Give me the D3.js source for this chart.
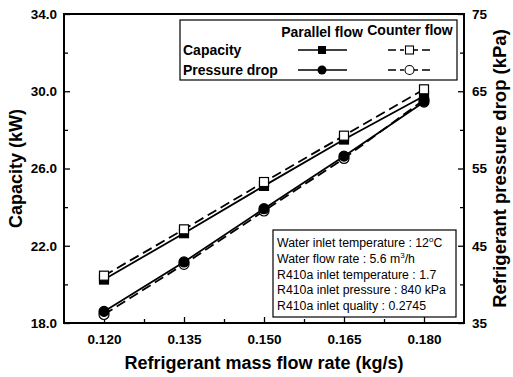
<!DOCTYPE html>
<html><head><meta charset="utf-8">
<script src="https://cdn.jsdelivr.net/npm/d3@7/dist/d3.min.js"></script>
<style>body{margin:0;background:#fff}svg{display:block}text{font-family:"Liberation Sans",Arial,sans-serif}</style>
</head><body>
<svg id="c" width="513" height="377"></svg>
<script>
const massFlow = [0.120, 0.135, 0.150, 0.165, 0.180];
const capParallel = [20.25, 22.65, 25.1, 27.5, 29.75];
const capCounter = [20.45, 22.85, 25.3, 27.7, 30.1];
const pdParallel = [36.5, 42.9, 49.8, 56.6, 63.6];
const pdCounter = [36.1, 42.6, 49.5, 56.3, 63.9];
const xTicks = [0.120, 0.135, 0.150, 0.165, 0.180];
const capTicks = [18, 22, 26, 30, 34];
const pdTicks = [35, 45, 55, 65, 75];
const infoLines = ["Water inlet temperature : 12°C", "Water flow rate : 5.6 m³/h", "R410a inlet temperature : 1.7", "R410a inlet pressure : 840 kPa", "R410a inlet quality : 0.2745"];

const svg = d3.select("#c");
const L = 64, R = 464, T = 14, B = 323;
const x = d3.scaleLinear().domain([0.1125, 0.1875]).range([L, R]);
const yC = d3.scaleLinear().domain([18, 34]).range([B, T]);
const yP = d3.scaleLinear().domain([35, 75]).range([B, T]);

// axes
const gx = svg.append("g").attr("transform", `translate(0,${B})`);
gx.call(d3.axisBottom(x).tickValues(xTicks).tickFormat(d3.format(".3f")).tickSize(-6).tickPadding(11));
gx.append("g").call(d3.axisBottom(x).tickValues(d3.range(0.1275, 0.18, 0.015)).tickSize(-4).tickFormat(""));
const gl = svg.append("g").attr("transform", `translate(${L},0)`);
gl.call(d3.axisLeft(yC).tickValues(capTicks).tickFormat(d3.format(".1f")).tickSize(-6).tickPadding(7));
gl.append("g").call(d3.axisLeft(yC).tickValues([20, 24, 28, 32]).tickSize(-4).tickFormat(""));
const gr = svg.append("g").attr("transform", `translate(${R},0)`);
gr.call(d3.axisRight(yP).tickValues(pdTicks).tickFormat(d3.format("d")).tickSize(-6).tickPadding(8));
gr.append("g").call(d3.axisRight(yP).tickValues([40, 50, 60, 70]).tickSize(-4).tickFormat(""));
svg.selectAll(".domain").remove();
svg.selectAll(".tick line").attr("stroke", "#000").attr("stroke-width", 1.3);
svg.selectAll(".tick text").attr("font-size", 13.5).attr("font-weight", "bold").attr("fill", "#000");
svg.append("rect").attr("x", L).attr("y", T).attr("width", R - L).attr("height", B - T)
  .attr("fill", "none").attr("stroke", "#000").attr("stroke-width", 2);

// axis titles
svg.append("text").attr("x", (L + R) / 2).attr("y", 369).attr("text-anchor", "middle")
  .attr("font-size", 18).attr("font-weight", "bold").text("Refrigerant mass flow rate (kg/s)");
svg.append("text").attr("transform", `translate(22,${(T + B) / 2}) rotate(-90)`).attr("text-anchor", "middle")
  .attr("font-size", 18).attr("font-weight", "bold").text("Capacity (kW)");
svg.append("text").attr("transform", `translate(506,${(T + B) / 2}) rotate(-90)`).attr("text-anchor", "middle")
  .attr("font-size", 18.5).attr("font-weight", "bold").text("Refrigerant pressure drop (kPa)");

// series
const dash = "10,5";
function line(vals, ys, dashed) {
  svg.append("path").datum(vals)
    .attr("d", d3.line().x((d, i) => x(massFlow[i])).y(d => ys(d)))
    .attr("fill", "none").attr("stroke", "#000").attr("stroke-width", 1.8)
    .attr("stroke-dasharray", dashed ? dash : null);
}
line(capCounter, yC, true);
line(capParallel, yC, false);
line(pdCounter, yP, true);
line(pdParallel, yP, false);

function squares(vals, fill) {
  svg.append("g").selectAll("rect").data(vals).join("rect")
    .attr("x", (d, i) => x(massFlow[i]) - 4.5).attr("y", d => yC(d) - 4.5)
    .attr("width", 9).attr("height", 9).attr("fill", fill).attr("stroke", "#000").attr("stroke-width", 1.2);
}
function circles(vals, fill) {
  svg.append("g").selectAll("circle").data(vals).join("circle")
    .attr("cx", (d, i) => x(massFlow[i])).attr("cy", d => yP(d)).attr("r", 5)
    .attr("fill", fill).attr("stroke", "#000").attr("stroke-width", 1.2);
}
circles(pdCounter, "#fff");
circles(pdParallel, "#000");
squares(capParallel, "#000");
squares(capCounter, "#fff");

// legend
const lg = svg.append("g");
lg.append("rect").attr("x", 180).attr("y", 20).attr("width", 277).attr("height", 60)
  .attr("fill", "#fff").attr("stroke", "#000").attr("stroke-width", 1.2);
lg.append("text").attr("x", 322).attr("y", 37).attr("text-anchor", "middle").attr("font-size", 14).attr("font-weight", "bold").text("Parallel flow");
lg.append("text").attr("x", 410).attr("y", 35).attr("text-anchor", "middle").attr("font-size", 14).attr("font-weight", "bold").text("Counter flow");
lg.append("text").attr("x", 183).attr("y", 55).attr("font-size", 14).attr("font-weight", "bold").text("Capacity");
lg.append("text").attr("x", 183).attr("y", 75).attr("font-size", 14).attr("font-weight", "bold").text("Pressure drop");
[[50, "sq"], [70, "ci"]].forEach(([yy, m]) => {
  lg.append("line").attr("x1", 298).attr("x2", 347).attr("y1", yy).attr("y2", yy).attr("stroke", "#000").attr("stroke-width", 1.6);
  lg.append("line").attr("x1", 388).attr("x2", 431).attr("y1", yy).attr("y2", yy).attr("stroke", "#000").attr("stroke-width", 1.6).attr("stroke-dasharray", "8,4,4,10,4,4,8");
  if (m === "sq") {
    lg.append("rect").attr("x", 318).attr("y", yy - 4).attr("width", 8).attr("height", 8).attr("fill", "#000");
    lg.append("rect").attr("x", 405.5).attr("y", yy - 4).attr("width", 8).attr("height", 8).attr("fill", "#fff").attr("stroke", "#000").attr("stroke-width", 1.1);
  } else {
    lg.append("circle").attr("cx", 322).attr("cy", yy).attr("r", 4.5).attr("fill", "#000");
    lg.append("circle").attr("cx", 409.5).attr("cy", yy).attr("r", 4.5).attr("fill", "#fff").attr("stroke", "#000").attr("stroke-width", 1.1);
  }
});

// info box
const ib = svg.append("g");
ib.append("rect").attr("x", 273).attr("y", 230).attr("width", 183).attr("height", 87)
  .attr("fill", "#fff").attr("stroke", "#000").attr("stroke-width", 1.2);
infoLines.forEach((t, i) => {
  const tx = ib.append("text").attr("x", 277).attr("y", 247 + i * 15.8).attr("font-size", 12.3).attr("fill", "#000").attr("textLength", null);
  if (i === 0) {
    tx.text("Water inlet temperature : 12");
    tx.append("tspan").attr("font-size", 8).attr("dy", -5).text("o");
    tx.append("tspan").attr("dy", 5).text("C");
  } else if (i === 1) {
    tx.text("Water flow rate : 5.6 m");
    tx.append("tspan").attr("font-size", 8).attr("dy", -5).text("3");
    tx.append("tspan").attr("dy", 5).text("/h");
  } else tx.text(t);
});
</script>
</body></html>
